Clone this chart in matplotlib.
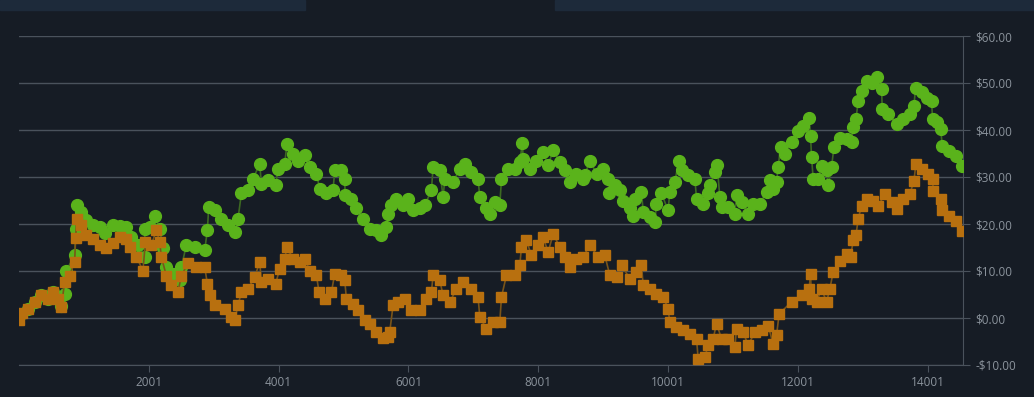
"""Two-series price history on a dark theme, right-hand dollar axis."""

import matplotlib

matplotlib.use("Agg")
import matplotlib.pyplot as plt
from matplotlib.patches import Rectangle
from matplotlib.ticker import FuncFormatter

# values (x = day index)
green_x = [1, 139, 242, 345, 447, 524, 601, 653, 704, 730, 858, 874, 889, 961,
           1038, 1141, 1243, 1320, 1449, 1552, 1655, 1732, 1834, 1937, 1940, 2014,
           2091, 2168, 2220, 2271, 2373, 2476, 2502, 2579, 2707, 2862, 2903, 2924,
           3016, 3119, 3221, 3324, 3375, 3427, 3529, 3606, 3709, 3735, 3837, 3956,
           3991, 4094, 4130, 4222, 4299, 4403, 4480, 4583, 4634, 4737, 4839, 4865,
           4968, 5019, 5025, 5122, 5199, 5301, 5404, 5507, 5585, 5662, 5686, 5738,
           5816, 5917, 5994, 6071, 6175, 6252, 6355, 6380, 6483, 6535, 6561, 6689,
           6792, 6869, 6972, 7073, 7100, 7203, 7254, 7331, 7408, 7434, 7536, 7639,
           7716, 7757, 7767, 7870, 7973, 8076, 8153, 8230, 8332, 8409, 8486, 8589,
           8692, 8718, 8795, 8898, 9000, 9077, 9092, 9180, 9257, 9308, 9411, 9462,
           9488, 9591, 9617, 9720, 9797, 9822, 9899, 10001, 10027, 10104, 10166,
           10208, 10309, 10413, 10439, 10541, 10618, 10644, 10721, 10757, 10798,
           10824, 10926, 11029, 11055, 11132, 11234, 11311, 11414, 11517, 11568,
           11619, 11671, 11696, 11733, 11799, 11902, 12005, 12082, 12174, 12195,
           12211, 12236, 12313, 12365, 12442, 12467, 12519, 12555, 12648, 12750,
           12827, 12853, 12895, 12930, 12982, 13059, 13136, 13213, 13290, 13300,
           13392, 13521, 13624, 13727, 13788, 13814, 13906, 13983, 14060, 14075,
           14137, 14199, 14225, 14327, 14430, 14533]
green_y = [0.5, 2.0, 3.4, 4.8, 4.0, 5.5, 4.0, 2.6, 5.2, 10.1, 13.3, 19.0, 24.0, 22.6,
           20.8, 19.7, 19.4, 18.0, 19.7, 19.6, 19.4, 17.2, 15.5, 13.0, 19.0, 19.4,
           21.8, 19.0, 14.8, 10.8, 9.4, 8.0, 10.8, 15.5, 15.1, 14.4, 18.7, 23.6,
           22.9, 21.1, 19.7, 18.3, 21.1, 26.5, 27.2, 29.6, 32.8, 28.6, 29.3, 28.2,
           31.8, 32.8, 37.1, 35.0, 33.5, 34.6, 32.1, 30.7, 27.5, 26.5, 27.2, 31.4,
           31.4, 29.6, 26.1, 25.4, 23.3, 21.1, 19.0, 18.7, 17.6, 19.4, 22.2, 24.0,
           25.4, 24.0, 25.4, 22.9, 23.3, 24.0, 27.2, 32.1, 31.4, 25.7, 29.6, 28.9,
           31.8, 32.8, 31.1, 29.6, 25.7, 23.3, 22.2, 24.7, 24.0, 29.6, 31.8, 31.8,
           33.2, 37.3, 33.9, 31.8, 33.5, 35.3, 32.5, 35.7, 33.2, 31.4, 28.9, 30.7,
           29.6, 30.4, 33.5, 30.7, 31.8, 29.6, 26.5, 28.2, 27.2, 25.0, 23.3, 21.8,
           25.4, 26.8, 22.6, 21.5, 20.4, 24.3, 26.5, 22.9, 26.8, 28.9, 33.5,
           31.4, 30.4, 29.6, 25.4, 24.3, 26.5, 28.2, 31.1, 32.5, 25.7,
           23.6, 23.6, 22.2, 26.1, 24.7, 22.2, 24.3, 24.3, 26.8, 29.3,
           27.5, 28.9, 32.1, 36.3, 34.9, 37.4, 39.8, 40.9, 42.5, 38.8,
           34.2, 29.6, 29.6, 32.4, 31.4, 28.2, 32.1, 36.3, 38.4, 38.1,
           37.4, 40.6, 42.3, 46.2, 48.3, 50.5, 50.1, 51.2, 48.7, 44.4,
           43.4, 41.3, 42.3, 43.4, 45.2, 49.0, 48.0, 46.9, 46.2, 42.3,
           41.6, 40.2, 36.7, 35.6, 34.5, 32.4]

orange_x = [1, 40, 139, 242, 345, 447, 524, 601, 653, 704, 781, 858, 874, 889, 961,
            1038, 1141, 1243, 1346, 1449, 1552, 1655, 1706, 1809, 1911, 1948, 2040,
            2117, 2168, 2194, 2271, 2348, 2450, 2502, 2604, 2733, 2862, 2903, 2939,
            3016, 3170, 3273, 3324, 3375, 3427, 3529, 3632, 3709, 3735, 3837, 3956,
            4017, 4094, 4130, 4222, 4325, 4403, 4480, 4583, 4623, 4711, 4814, 4865,
            4968, 5019, 5045, 5147, 5224, 5327, 5404, 5507, 5610, 5686, 5712, 5764,
            5841, 5943, 6047, 6175, 6278, 6355, 6380, 6483, 6535, 6638, 6741, 6843,
            6972, 7073, 7100, 7203, 7305, 7408, 7434, 7511, 7639, 7716, 7742, 7819,
            7896, 7999, 8076, 8153, 8230, 8332, 8409, 8486, 8589, 8692, 8795, 8923,
            9026, 9103, 9206, 9283, 9411, 9514, 9591, 9617, 9720, 9822, 9925, 10001,
            10027, 10130, 10233, 10335, 10439, 10464, 10567, 10618, 10695, 10747,
            10824, 10926, 11029, 11055, 11157, 11234, 11337, 11440, 11542, 11619,
            11671, 11712, 11902, 12056, 12174, 12195, 12211, 12288, 12365, 12442,
            12493, 12544, 12648, 12750, 12812, 12853, 12895, 12930, 12982, 13059,
            13162, 13239, 13342, 13444, 13521, 13624, 13727, 13788, 13819, 13906,
            14008, 14075, 14086, 14199, 14225, 14327, 14430, 14533]
orange_y = [-0.5, 1.0, 2.0, 3.4, 4.8, 4.0, 5.5, 4.0, 2.3, 7.7, 9.0, 12.0, 17.0, 21.0,
            19.7, 17.6, 16.9, 15.5, 14.8, 16.0, 17.2, 16.9, 15.1, 13.0, 10.1, 16.2,
            15.5, 18.7, 16.2, 13.0, 9.0, 7.0, 5.5, 9.0, 11.6, 10.8, 10.8, 7.3, 4.8,
            2.7, 2.0, 0.2, -0.5, 2.7, 5.5, 6.2, 8.7, 11.9, 7.7, 8.4, 7.3,
            10.5, 12.6, 15.1, 12.6, 11.9, 12.6, 10.1, 9.1, 5.5, 4.1, 5.5, 9.4,
            9.1, 8.0, 4.1, 3.0, 1.6, -0.5, -1.2, -3.0, -4.3, -4.0, -3.0, 2.7,
            3.4, 4.1, 1.6, 1.6, 4.1, 5.5, 9.1, 8.0, 4.8, 3.4, 6.2, 7.7,
            6.2, 4.5, 0.2, -2.3, -0.9, -0.9, 4.5, 9.1, 9.1, 11.2, 15.1, 16.5,
            13.3, 15.5, 17.2, 14.0, 17.9, 15.1, 13.0, 10.9, 12.6, 13.0, 15.5, 13.0,
            13.3, 9.1, 8.7, 11.2, 8.4, 9.8, 11.2, 7.0, 6.2, 5.2, 4.5, 2.0,
            -0.9, -1.9, -2.6, -3.3, -4.4, -8.7, -8.3, -5.8, -4.4, -1.2,
            -4.4, -4.4, -6.2, -2.3, -3.0, -5.8, -3.0, -2.6, -1.6, -5.5,
            -3.7, 0.9, 3.4, 4.8, 6.2, 9.4, 4.1, 3.4, 6.2, 3.4,
            6.2, 9.8, 12.2, 13.7, 13.0, 16.5, 17.6, 21.1, 23.9, 25.3,
            25.0, 23.9, 26.4, 24.6, 23.2, 25.3, 26.4, 29.2, 32.8, 31.7,
            30.6, 29.6, 27.1, 25.3, 22.9, 21.8, 20.7, 18.6]

x_ticks = [2001, 4001, 6001, 8001, 10001, 12001, 14001]
y_ticks = [-10, 0, 10, 20, 30, 40, 50, 60]

BG = "#161c25"
GRID = "#4a525c"
TEXT = "#8b939c"

plt.rcParams["font.family"] = ["Open Sans", "DejaVu Sans"]

fig = plt.figure(figsize=(10.34, 3.97), dpi=100, facecolor=BG)
ax = fig.add_axes([19 / 1034, 32 / 397, 944 / 1034, 329 / 397])
ax.set_facecolor(BG)

# tab strip along the top edge
for x0, w in [(0, 305), (555, 479)]:
    fig.patches.append(Rectangle((x0 / 1034, 1 - 10 / 397), w / 1034, 10 / 397,
                                 transform=fig.transFigure, color="#1d2a3a", zorder=0))

ax.plot(green_x, green_y, color="#3d6a22", lw=1.2, marker="o", ms=8.5,
        mfc="#5ab31b", mec="#5ab31b", zorder=3)
ax.plot(orange_x, orange_y, color="#7a5418", lw=1.2, marker="s", ms=7.5,
        mfc="#b8700f", mec="#b8700f", zorder=4)

ax.set_xlim(1, 14544)
ax.set_ylim(-10, 60)
ax.set_xticks(x_ticks)
ax.set_yticks(y_ticks)
ax.yaxis.tick_right()
ax.yaxis.set_major_formatter(FuncFormatter(lambda v, _: f"-${abs(v):.2f}" if v < 0 else f"${v:.2f}"))
ax.grid(axis="y", color=GRID, lw=1)
ax.tick_params(axis="y", length=5, color=GRID, labelcolor=TEXT, labelsize=8.5, pad=4)
ax.tick_params(axis="x", length=5, color=GRID, labelcolor=TEXT, labelsize=8.5, pad=3)
for side in ["top", "left"]:
    ax.spines[side].set_visible(False)
for side in ["right", "bottom"]:
    ax.spines[side].set_color(GRID)

fig.savefig("out.png", dpi=100, facecolor=BG)
